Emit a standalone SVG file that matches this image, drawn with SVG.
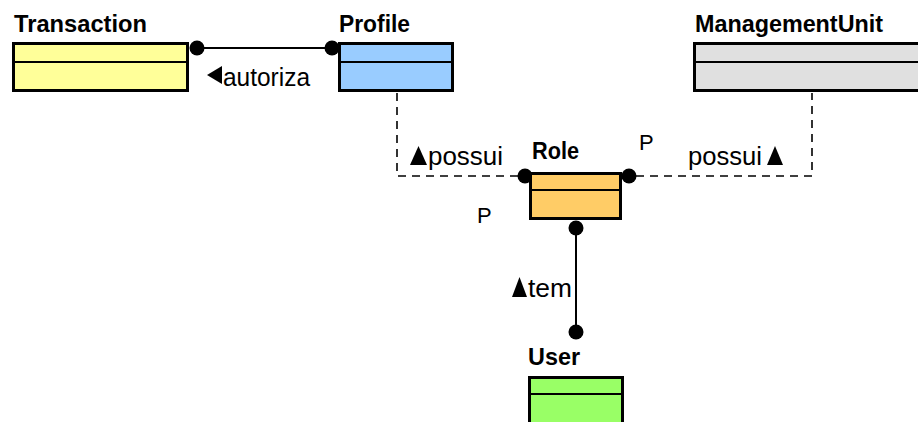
<svg xmlns="http://www.w3.org/2000/svg" width="918" height="422" viewBox="0 0 918 422">
  <style>
    .title { font-family: "Liberation Sans", Arial, sans-serif; font-weight: bold; font-size: 24px; fill: #000; }
    .label { font-family: "Liberation Sans", Arial, sans-serif; font-size: 25px; fill: #000; }
    .role { font-family: "Liberation Sans", Arial, sans-serif; font-size: 22px; fill: #000; }
    .box { stroke: #000; stroke-width: 3; }
    .sep { stroke: #000; stroke-width: 2; }
    .assoc { fill: none; stroke: #000; stroke-width: 2; }
    .dep { fill: none; stroke: #000; stroke-width: 1.6; stroke-dasharray: 8 6; }
    .dot { fill: #000; }
    .dir { fill: #000; }
  </style>

  <!-- connectors (drawn first so the class boxes sit on top of the end dots) -->
  <g id="connectors">
    <!-- Transaction - Profile : autoriza -->
    <g id="c-autoriza">
      <line class="assoc" x1="197" y1="48" x2="332" y2="48"/>
      <circle class="dot" cx="197" cy="48" r="7.5"/>
      <circle class="dot" cx="332" cy="48" r="7.5"/>
      <polygon class="dir" points="207,75 222,66 222,84"/>
      <text class="label" x="223" y="86" textLength="87" lengthAdjust="spacingAndGlyphs">autoriza</text>
    </g>
    <!-- Profile - Role : possui -->
    <g id="c-possui-profile">
      <polyline class="dep" points="397,93 397,176 520,176"/>
      <circle class="dot" cx="525" cy="176" r="7.5"/>
      <polygon class="dir" points="410,165 418.5,146 427,165"/>
      <text class="label" x="428" y="165" textLength="75" lengthAdjust="spacingAndGlyphs">possui</text>
    </g>
    <!-- ManagementUnit - Role : possui -->
    <g id="c-possui-unit">
      <polyline class="dep" points="636,176 812,176 812,93"/>
      <circle class="dot" cx="629" cy="176" r="7.5"/>
      <text class="label" x="688" y="165" textLength="74" lengthAdjust="spacingAndGlyphs">possui</text>
      <polygon class="dir" points="767,165 775,146 783,165"/>
      <text class="role" x="639" y="150">P</text>
      <text class="role" x="477" y="223">P</text>
    </g>
    <!-- Role - User : tem -->
    <g id="c-tem">
      <line class="assoc" x1="576" y1="228" x2="576" y2="332"/>
      <circle class="dot" cx="576" cy="228" r="7.5"/>
      <circle class="dot" cx="576" cy="332" r="7.5"/>
      <polygon class="dir" points="512,297 519.5,277 527,297"/>
      <text class="label" x="528" y="297" textLength="44" lengthAdjust="spacingAndGlyphs">tem</text>
    </g>
  </g>

  <g id="Transaction">
    <text class="title" x="14" y="32" textLength="133" lengthAdjust="spacingAndGlyphs">Transaction</text>
    <rect class="box" x="13.5" y="43.5" width="174" height="47" fill="#FFFF99"/>
    <line class="sep" x1="13" y1="62" x2="188" y2="62"/>
  </g>

  <g id="Profile">
    <text class="title" x="339" y="32" textLength="71" lengthAdjust="spacingAndGlyphs">Profile</text>
    <rect class="box" x="339.5" y="43.5" width="113" height="47" fill="#99CCFF"/>
    <line class="sep" x1="339" y1="62" x2="453" y2="62"/>
  </g>

  <g id="ManagementUnit">
    <text class="title" x="695" y="32" textLength="188" lengthAdjust="spacingAndGlyphs">ManagementUnit</text>
    <rect class="box" x="694.5" y="43.5" width="240" height="47" fill="#E0E0E0"/>
    <line class="sep" x1="694" y1="62" x2="934" y2="62"/>
  </g>

  <g id="Role">
    <text class="title" x="532" y="159" textLength="47" lengthAdjust="spacingAndGlyphs">Role</text>
    <rect class="box" x="530.5" y="173.5" width="90" height="45" fill="#FFCC66"/>
    <line class="sep" x1="530" y1="190" x2="621" y2="190"/>
  </g>

  <g id="User">
    <text class="title" x="528" y="365" textLength="52" lengthAdjust="spacingAndGlyphs">User</text>
    <rect class="box" x="529.5" y="377.5" width="93" height="60" fill="#99FF66"/>
    <line class="sep" x1="529" y1="394" x2="623" y2="394"/>
  </g>
</svg>
